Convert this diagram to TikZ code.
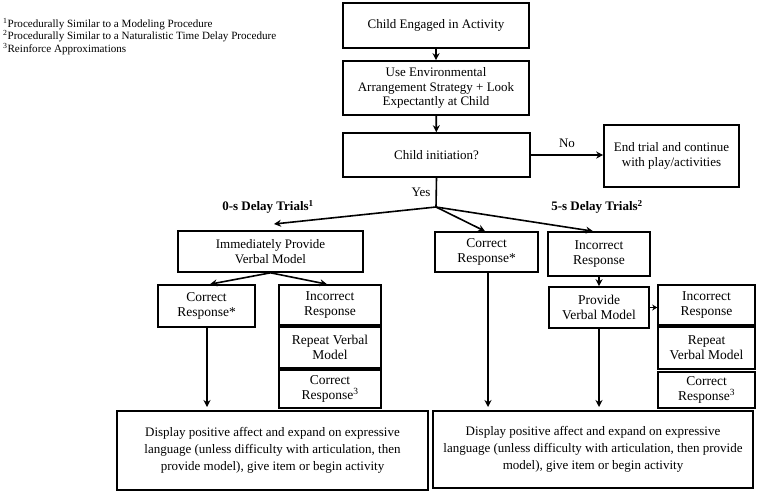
\documentclass[tikz,border=0pt]{standalone}
\usepackage{fontspec}
\setmainfont{Liberation Serif}
\usetikzlibrary{arrows.meta}
\begin{document}
\begin{tikzpicture}[x=1pt,y=-1pt,
  box/.style={draw, line width=1.6pt, align=center, inner sep=1pt,
    font=\fontsize{13}{14.8}\selectfont},
  smallbox/.style={box, font=\fontsize{13.5}{15}\selectfont},
  bigbox/.style={box, font=\fontsize{13}{17}\selectfont},
  arr/.style={line width=1.6pt, -{Stealth[length=7pt,width=7pt]}},
  lab/.style={font=\fontsize{13}{15}\selectfont, inner sep=0pt},
  dlab/.style={font=\bfseries\fontsize{13}{15}\selectfont, inner sep=0pt},
  foot/.style={font=\fontsize{11.1}{12.5}\selectfont, align=left, inner sep=0pt, anchor=north west}]
\useasboundingbox (0,0) rectangle (759,496);
\fill[white] (0,0) rectangle (759,496);

\node[foot] (notes) at (3,18) {\textsuperscript{1}Procedurally Similar to a Modeling Procedure\\
\textsuperscript{2}Procedurally Similar to a Naturalistic Time Delay Procedure\\
\textsuperscript{3}Reinforce Approximations};

\node[box, minimum width=186pt, minimum height=45pt] (engaged) at (436,25.5) {Child Engaged in Activity};
\node[box, minimum width=186pt, minimum height=54pt] (env) at (436,88) {Use Environmental\\Arrangement Strategy + Look\\Expectantly at Child};
\node[box, minimum width=187pt, minimum height=44pt] (init) at (436.5,155) {Child initiation?};
\node[box, minimum width=135pt, minimum height=62pt] (end) at (671.5,156) {End trial and continue\\with play/activities};

\node[box, minimum width=185pt, minimum height=41pt] (imm) at (270.5,251.5) {Immediately Provide\\Verbal Model};
\node[smallbox, minimum width=103pt, minimum height=40pt] (cm) at (486.5,252) {Correct\\Response*};
\node[smallbox, minimum width=102pt, minimum height=44pt] (ir) at (599,254) {Incorrect\\Response};

\node[smallbox, minimum width=97pt, minimum height=42pt] (lc) at (206.5,306) {Correct\\Response*};
\node[smallbox, minimum width=102pt, minimum height=40pt] (li) at (330,305) {Incorrect\\Response};
\node[smallbox, minimum width=102pt, minimum height=41pt] (lr) at (330,347.5) {Repeat Verbal\\Model};
\node[smallbox, minimum width=102pt, minimum height=38pt] (lc3) at (330,389) {Correct\\Response\textsuperscript{3}};

\node[smallbox, minimum width=100pt, minimum height=41pt] (pv) at (599,307.5) {Provide\\Verbal Model};
\node[smallbox, minimum width=97pt, minimum height=40pt] (ri) at (706.5,305) {Incorrect\\Response};
\node[smallbox, minimum width=97pt, minimum height=42pt] (rr) at (706.5,348) {Repeat\\Verbal Model};
\node[smallbox, minimum width=97pt, minimum height=36pt] (rc3) at (706.5,390) {Correct\\Response\textsuperscript{3}};

\node[bigbox, minimum width=311pt, minimum height=79pt] (bl) at (272.5,450.5) {Display positive affect and expand on expressive\\language (unless difficulty with articulation, then\\provide model), give item or begin activity};
\node[bigbox, minimum width=320pt, minimum height=77pt] (br) at (593,449.5) {Display positive affect and expand on expressive\\language (unless difficulty with articulation, then provide\\model), give item or begin activity};

\coordinate (branch) at (436,207);
\coordinate (immtop) at (274,224);
\coordinate (blA) at (207,407);
\coordinate (brA) at (488,407);
\coordinate (brB) at (599,407);

\draw[arr] (engaged) -- (env);
\draw[arr] (env) -- (init);
\draw[arr] (init.east) -- (init.east -| end.west) node[lab, pos=0.5, above=7pt] (no) {No};
\draw[line width=1.6pt] (init.south) -- (branch) node[lab, pos=0.5, left=5pt] (yes) {Yes};
\draw[arr] (branch) -- (immtop);
\draw[arr] (branch) -- (cm.north -| 485,0);
\draw[arr] (branch) -- (ir.north -| 593,0);
\draw[arr] (imm.south) -- (lc.north -| 210,0);
\draw[arr] (imm.south) -- (li.north -| 327,0);
\draw[arr] (lc.south -| blA) -- (blA);
\draw[arr] (cm.south -| brA) -- (brA);
\draw[arr] (ir) -- (pv);
\draw[arr, -{Stealth[length=5pt,width=6pt]}] (pv.east) -- (pv.east -| ri.west);
\draw[arr] (pv.south) -- (brB);

\node[dlab] (d0) at (268,207) {0-s Delay Trials\textsuperscript{1}};
\node[dlab] (d5) at (597,207) {5-s Delay Trials\textsuperscript{2}};
\end{tikzpicture}
\end{document}
